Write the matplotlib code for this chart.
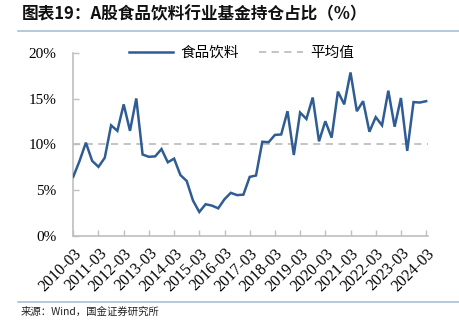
import numpy as np
import matplotlib
matplotlib.use("Agg")
import matplotlib.pyplot as plt
from matplotlib.lines import Line2D

plt.rcParams['font.family'] = ['Noto Sans CJK SC', 'DejaVu Sans']

# quarterly share of food & beverage stocks in fund holdings (%), 2010Q1 - 2024Q1
share = [6.47, 8.2, 10.2, 8.2, 7.55, 8.55, 12.1, 11.5, 14.4, 11.5, 15.05,
         8.9, 8.65, 8.7, 9.5, 8.05, 8.45, 6.65, 6.0, 3.85, 2.6,
         3.45, 3.3, 3.0, 4.0, 4.7, 4.45, 4.5, 6.45, 6.6, 10.3,
         10.25, 11.05, 11.1, 13.65, 8.85, 13.5, 12.8, 15.15, 10.35, 12.55,
         10.75, 15.8, 14.4, 17.9, 13.65, 14.75, 11.4, 13.0, 12.1, 15.9,
         11.95, 15.1, 9.3, 14.65, 14.6, 14.75]
years = list(range(2010, 2025))
year_labels = [f"{y}-03" for y in years]
y_ticks = [0, 5, 10, 15, 20]

avg = np.mean(share)
x = np.arange(len(share))

fig = plt.figure(figsize=(4.6, 3.22), dpi=100)
ax = fig.add_axes([0.1593, 0.268, 0.9298 - 0.1593, 0.8345 - 0.268])

ax.plot(x, share, color="#2f5d93", linewidth=1.8, solid_joinstyle="miter", zorder=3)
ax.axhline(avg, color="#bfbfbf", linewidth=1.3, linestyle=(0, (4, 3)), zorder=2)

ax.set_xlim(0, 56.25)
ax.set_ylim(0, 20)
ax.set_yticks(y_ticks)
ax.set_yticklabels([f"{v}%" for v in y_ticks], family="Liberation Serif", fontsize=11)
ax.set_xticks(np.arange(0, len(share), 4))
ax.set_xticklabels(year_labels, rotation=45, ha="right", rotation_mode="anchor",
                   family="Liberation Serif", fontsize=11.5)
ax.tick_params(axis="both", direction="in", length=4, color="#bfbfbf", width=1)
ax.tick_params(axis="y", pad=12)
ax.tick_params(axis="x", pad=7)

for s in ["top", "right"]:
    ax.spines[s].set_visible(False)
for s in ["left", "bottom"]:
    ax.spines[s].set_color("#bfbfbf")
    ax.spines[s].set_linewidth(1.2)

handles = [Line2D([], [], color="#2f5d93", linewidth=1.8),
           Line2D([], [], color="#bfbfbf", linewidth=1.3, linestyle=(0, (4, 3)))]
fig.legend(handles, ["食品饮料", "平均值"], loc="center", bbox_to_anchor=(0.525, 0.835),
           ncol=2, frameon=False, fontsize=10.5, handlelength=3.0, columnspacing=1.4,
           handletextpad=0.5)

# header and footer
fig.text(0.048, 0.955, "图表19：A股食品饮料行业基金持仓占比（%）", fontsize=12,
         fontweight="bold", va="center", ha="left", color="#111111")
fig.add_artist(Line2D([18 / 460, 1], [1 - 31 / 322] * 2, color="#a9c0d6", linewidth=1.2))
fig.add_artist(Line2D([18 / 460, 1], [1 - 302 / 322] * 2, color="#a9c0d6", linewidth=1.2))
fig.text(0.045, 1 - 312 / 322, "来源：Wind，国金证券研究所", fontsize=7.5,
         va="center", ha="left", color="#222222")

fig.savefig("out.png", dpi=100)
